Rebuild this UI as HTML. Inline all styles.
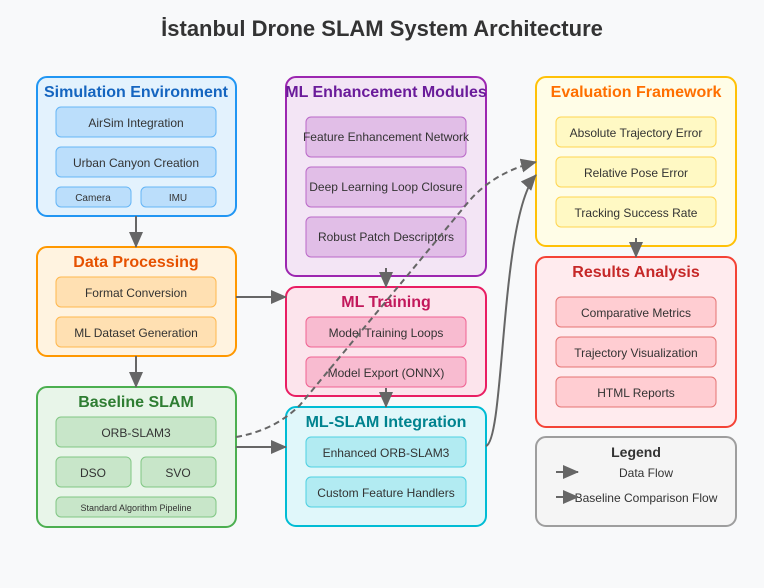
<!DOCTYPE html>
<html><head><meta charset="utf-8"><style>body{margin:0;background:#f8f9fa}svg{display:block}text{font-family:"Liberation Sans",Arial,sans-serif}</style></head><body>
<svg width="764" height="588" viewBox="0 0 764 588" xmlns="http://www.w3.org/2000/svg">
<defs><marker id="a" markerUnits="userSpaceOnUse" markerWidth="16" markerHeight="14" refX="15" refY="7" orient="auto"><polygon points="0 0,16 7,0 14" fill="#666"/></marker></defs>
<rect width="764" height="588" fill="#f8f9fa"/>
<text x="382" y="36" text-anchor="middle" font-size="22" font-weight="bold" fill="#333">İstanbul Drone SLAM System Architecture</text>

<g font-size="12" fill="#333" text-anchor="middle">
<rect x="37" y="77" width="199" height="139" rx="10" fill="#e3f2fd" stroke="#2196f3" stroke-width="2"/>
<text x="136" y="97" font-size="16" font-weight="bold" fill="#1565c0">Simulation Environment</text>
<rect x="56" y="107" width="160" height="30" rx="5" fill="#bbdefb" stroke="#64b5f6"/><text x="136" y="127">AirSim Integration</text>
<rect x="56" y="147" width="160" height="30" rx="5" fill="#bbdefb" stroke="#64b5f6"/><text x="136" y="167">Urban Canyon Creation</text>
<rect x="56" y="187" width="75" height="20" rx="5" fill="#bbdefb" stroke="#64b5f6"/><text x="93" y="201" font-size="10">Camera</text>
<rect x="141" y="187" width="75" height="20" rx="5" fill="#bbdefb" stroke="#64b5f6"/><text x="178" y="201" font-size="10">IMU</text>
<rect x="37" y="247" width="199" height="109" rx="10" fill="#fff3e0" stroke="#ff9800" stroke-width="2"/>
<text x="136" y="267" font-size="16" font-weight="bold" fill="#e65100">Data Processing</text>
<rect x="56" y="277" width="160" height="30" rx="5" fill="#ffe0b2" stroke="#ffb74d"/><text x="136" y="297">Format Conversion</text>
<rect x="56" y="317" width="160" height="30" rx="5" fill="#ffe0b2" stroke="#ffb74d"/><text x="136" y="337">ML Dataset Generation</text>
<rect x="37" y="387" width="199" height="140" rx="10" fill="#e8f5e9" stroke="#4caf50" stroke-width="2"/>
<text x="136" y="407" font-size="16" font-weight="bold" fill="#2e7d32">Baseline SLAM</text>
<rect x="56" y="417" width="160" height="30" rx="5" fill="#c8e6c9" stroke="#81c784"/><text x="136" y="437">ORB-SLAM3</text>
<rect x="56" y="457" width="75" height="30" rx="5" fill="#c8e6c9" stroke="#81c784"/><text x="93" y="477">DSO</text>
<rect x="141" y="457" width="75" height="30" rx="5" fill="#c8e6c9" stroke="#81c784"/><text x="178" y="477">SVO</text>
<rect x="56" y="497" width="160" height="20" rx="5" fill="#c8e6c9" stroke="#81c784"/><text x="136" y="511" font-size="9">Standard Algorithm Pipeline</text>
<rect x="286" y="77" width="200" height="199" rx="10" fill="#f3e5f5" stroke="#9c27b0" stroke-width="2"/>
<text x="386" y="97" font-size="16" font-weight="bold" fill="#6a1b9a">ML Enhancement Modules</text>
<rect x="306" y="117" width="160" height="40" rx="5" fill="#e1bee7" stroke="#ba68c8"/><text x="386" y="141">Feature Enhancement Network</text>
<rect x="306" y="167" width="160" height="40" rx="5" fill="#e1bee7" stroke="#ba68c8"/><text x="386" y="191">Deep Learning Loop Closure</text>
<rect x="306" y="217" width="160" height="40" rx="5" fill="#e1bee7" stroke="#ba68c8"/><text x="386" y="241">Robust Patch Descriptors</text>
<rect x="286" y="287" width="200" height="109" rx="10" fill="#fce4ec" stroke="#e91e63" stroke-width="2"/>
<text x="386" y="307" font-size="16" font-weight="bold" fill="#c2185b">ML Training</text>
<rect x="306" y="317" width="160" height="30" rx="5" fill="#f8bbd0" stroke="#f06292"/><text x="386" y="337">Model Training Loops</text>
<rect x="306" y="357" width="160" height="30" rx="5" fill="#f8bbd0" stroke="#f06292"/><text x="386" y="377">Model Export (ONNX)</text>
<rect x="286" y="407" width="200" height="119" rx="10" fill="#e0f7fa" stroke="#00bcd4" stroke-width="2"/>
<text x="386" y="427" font-size="16" font-weight="bold" fill="#00838f">ML-SLAM Integration</text>
<rect x="306" y="437" width="160" height="30" rx="5" fill="#b2ebf2" stroke="#4dd0e1"/><text x="386" y="457">Enhanced ORB-SLAM3</text>
<rect x="306" y="477" width="160" height="30" rx="5" fill="#b2ebf2" stroke="#4dd0e1"/><text x="386" y="497">Custom Feature Handlers</text>
<rect x="536" y="77" width="200" height="169" rx="10" fill="#fffde7" stroke="#ffc107" stroke-width="2"/>
<text x="636" y="97" font-size="16" font-weight="bold" fill="#ff6f00">Evaluation Framework</text>
<rect x="556" y="117" width="160" height="30" rx="5" fill="#fff9c4" stroke="#ffd54f"/><text x="636" y="137">Absolute Trajectory Error</text>
<rect x="556" y="157" width="160" height="30" rx="5" fill="#fff9c4" stroke="#ffd54f"/><text x="636" y="177">Relative Pose Error</text>
<rect x="556" y="197" width="160" height="30" rx="5" fill="#fff9c4" stroke="#ffd54f"/><text x="636" y="217">Tracking Success Rate</text>
<rect x="536" y="257" width="200" height="170" rx="10" fill="#ffebee" stroke="#f44336" stroke-width="2"/>
<text x="636" y="277" font-size="16" font-weight="bold" fill="#c62828">Results Analysis</text>
<rect x="556" y="297" width="160" height="30" rx="5" fill="#ffcdd2" stroke="#e57373"/><text x="636" y="317">Comparative Metrics</text>
<rect x="556" y="337" width="160" height="30" rx="5" fill="#ffcdd2" stroke="#e57373"/><text x="636" y="357">Trajectory Visualization</text>
<rect x="556" y="377" width="160" height="30" rx="5" fill="#ffcdd2" stroke="#e57373"/><text x="636" y="397">HTML Reports</text>
<rect x="536" y="437" width="200" height="89" rx="10" fill="#f5f5f5" stroke="#9e9e9e" stroke-width="2"/>
<text x="636" y="457" font-size="14" font-weight="bold">Legend</text>
<text x="646" y="477">Data Flow</text>
<text x="646" y="502">Baseline Comparison Flow</text>
</g>
<g stroke="#666" stroke-width="2" fill="none" marker-end="url(#a)">
<line x1="556" y1="472" x2="578" y2="472"/>
<line x1="556" y1="497" x2="578" y2="497"/>
<line x1="136" y1="216" x2="136" y2="247"/>
<line x1="136" y1="356" x2="136" y2="387"/>
<line x1="236" y1="297" x2="286" y2="297"/>
<line x1="236" y1="447" x2="286" y2="447"/>
<line x1="386" y1="268" x2="386" y2="287"/>
<line x1="386" y1="388" x2="386" y2="407"/>
<line x1="636" y1="238" x2="636" y2="257"/>
<path d="M486 446 C505 440 500 215 536 175"/>
<path d="M236 437 C265 432 285 420 300 405 L470 200 Q495 172 536 162" stroke-dasharray="6,4"/>
</g>
</svg>
</body></html>
